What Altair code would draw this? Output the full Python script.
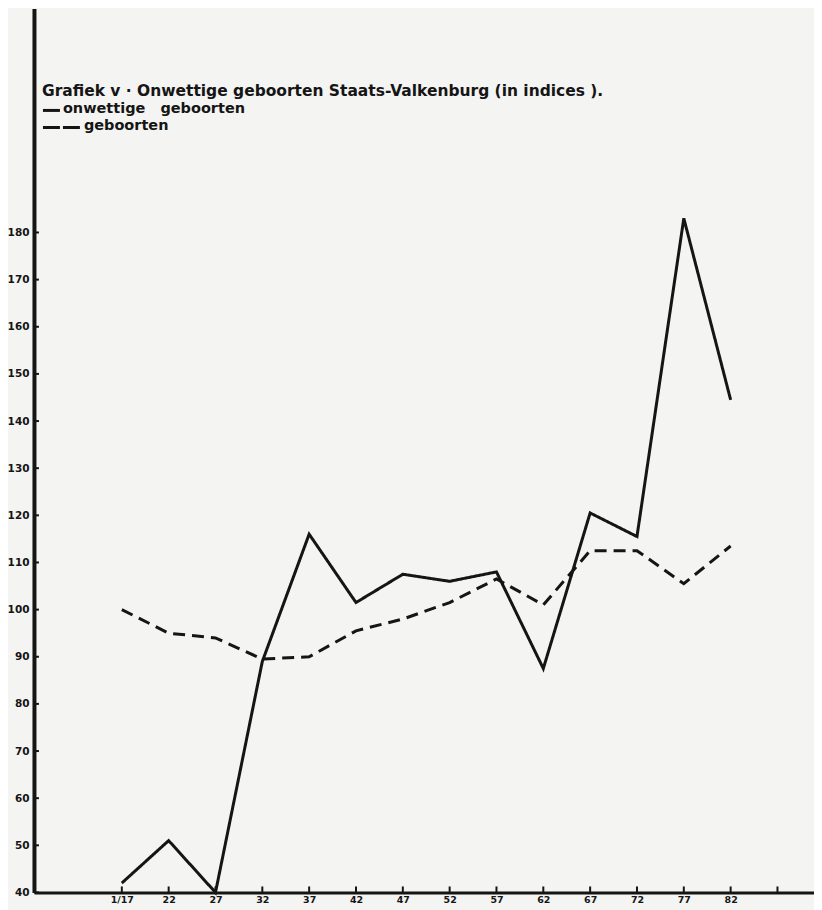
import altair as alt
import pandas as pd

# ---- data ----
years = ["1/17", "22", "27", "32", "37", "42", "47", "52", "57", "62", "67", "72", "77", "82"]
onwettige = [42, 51, 40, 89, 116, 101.5, 107.5, 106, 108, 87.5, 120.5, 115.5, 183, 144.5]
geboorten = [100, 95, 94, 89.5, 90, 95.5, 98, 101.5, 106.5, 101, 112.5, 112.5, 105.5, 113.5]
y_tick_values = [40, 50, 60, 70, 80, 90, 100, 110, 120, 130, 140, 150, 160, 170, 180]
x_tick_index = list(range(15))  # one extra unlabeled tick at the end

title_text = "Grafiek v  \u00b7 Onwettige geboorten Staats-Valkenburg (in indices )."
legend_labels = ["onwettige\u00a0\u00a0\u00a0geboorten", "geboorten"]

INK = "#151515"
FONT = "DejaVu Sans"

rows = []
for i, (a, b) in enumerate(zip(onwettige, geboorten)):
    rows.append({"idx": i, "value": a, "serie": legend_labels[0]})
    rows.append({"idx": i, "value": b, "serie": legend_labels[1]})
df = pd.DataFrame(rows)

label_map = {i: y for i, y in enumerate(years)}
label_expr = "{" + ",".join(f"'{k}':'{v}'" for k, v in label_map.items()) + "}[datum.value] || ''"

x_scale = alt.Scale(domain=[-1.876, 14.78], nice=False, zero=False)
y_scale = alt.Scale(domain=[40, 227.5], nice=False, zero=False)

x_axis = alt.Axis(
    values=x_tick_index, labelExpr=label_expr, title=None, grid=False,
    ticks=False, domainColor=INK, domainWidth=3, labelFont=FONT,
    labelFontWeight="bold", labelFontSize=9.5, labelColor=INK, labelPadding=2,
)
y_axis = alt.Axis(
    values=y_tick_values, title=None, grid=False, ticks=False,
    domainColor=INK, domainWidth=4, labelFont=FONT, labelFontWeight="bold",
    labelFontSize=10.5, labelColor=INK, labelPadding=5,
)

lines = alt.Chart(df).mark_line(strokeWidth=3, color=INK).encode(
    x=alt.X("idx:Q", scale=x_scale, axis=x_axis),
    y=alt.Y("value:Q", scale=y_scale, axis=y_axis),
    strokeDash=alt.StrokeDash(
        "serie:N",
        scale=alt.Scale(domain=legend_labels, range=[[1, 0], [12, 7]]),
        legend=None,
    ),
    detail="serie:N",
)

# inward tick marks, as in the original
ytick_df = pd.DataFrame({"v": y_tick_values})
yticks = alt.Chart(ytick_df).mark_rule(color=INK, strokeWidth=2).encode(
    y=alt.Y("v:Q", scale=y_scale), x=alt.value(0), x2=alt.value(5)
)
xtick_df = pd.DataFrame({"i": x_tick_index})
xticks = alt.Chart(xtick_df).mark_rule(color=INK, strokeWidth=2).encode(
    x=alt.X("i:Q", scale=x_scale), y=alt.value(885), y2=alt.value(879)
)

title = alt.Chart(pd.DataFrame({"t": [title_text]})).mark_text(
    align="left", baseline="middle", font=FONT, fontWeight="bold",
    fontSize=15.5, color=INK,
).encode(text="t:N", x=alt.value(8), y=alt.value(83))

leg1_text = alt.Chart(pd.DataFrame({"t": [legend_labels[0]]})).mark_text(
    align="left", baseline="middle", font=FONT, fontWeight="bold",
    fontSize=14.5, color=INK,
).encode(text="t:N", x=alt.value(29), y=alt.value(101))
leg2_text = alt.Chart(pd.DataFrame({"t": [legend_labels[1]]})).mark_text(
    align="left", baseline="middle", font=FONT, fontWeight="bold",
    fontSize=14.5, color=INK,
).encode(text="t:N", x=alt.value(50), y=alt.value(118))

leg1_line = alt.Chart(pd.DataFrame({"t": [0]})).mark_rule(color=INK, strokeWidth=3).encode(
    x=alt.value(9), x2=alt.value(26), y=alt.value(102)
)
leg2_line = alt.Chart(pd.DataFrame({"t": [0]})).mark_rule(
    color=INK, strokeWidth=3, strokeDash=[17, 3]
).encode(x=alt.value(9), x2=alt.value(48), y=alt.value(119))

chart = alt.layer(
    lines, yticks, xticks, title, leg1_text, leg2_text, leg1_line, leg2_line
).properties(
    width=781, height=885,
    padding={"left": 26, "top": 0, "right": 0, "bottom": 17},
    autosize=alt.AutoSizeParams(type="none"),
    background="#f4f4f2",
).configure_view(stroke=None)

chart.save("out.html", embed_options={"renderer": "svg", "actions": False})
